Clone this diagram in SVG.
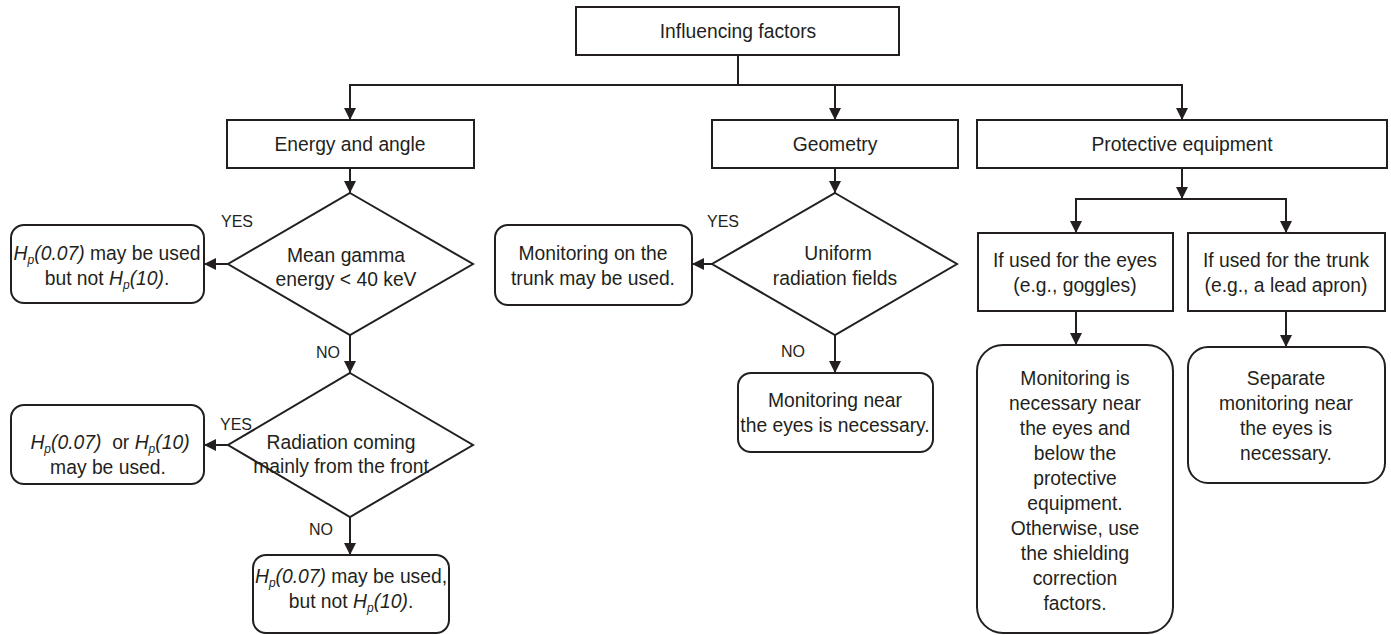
<svg xmlns="http://www.w3.org/2000/svg" width="1391" height="635" viewBox="0 0 1391 635">
<defs>
<marker id="arr" markerUnits="userSpaceOnUse" markerWidth="12" markerHeight="14" refX="12" refY="6" orient="auto">
<path d="M0,0 L12,6 L0,12 Z" fill="#231f20"/>
</marker>
<style>
.box{fill:#fff;stroke:#231f20;stroke-width:2}
.t{font-family:"Liberation Sans",Arial,sans-serif;font-size:19.3px;fill:#231f20;text-anchor:middle}
.lbl{font-family:"Liberation Sans",Arial,sans-serif;font-size:16px;fill:#231f20}
.c{fill:none;stroke:#231f20;stroke-width:2}
.i{font-style:italic}
.sub{font-style:italic;font-size:12px}
</style>
</defs>
<rect width="1391" height="635" fill="#fff"/>
<g id="connectors">
<path class="c" d="M738,55 V85"/>
<path class="c" d="M349,85 H1183"/>
<path class="c" d="M350,85 V120" marker-end="url(#arr)"/>
<path class="c" d="M835,85 V120" marker-end="url(#arr)"/>
<path class="c" d="M1182,85 V120" marker-end="url(#arr)"/>
<path class="c" d="M350,168 V193" marker-end="url(#arr)"/>
<path class="c" d="M228,264 H204" marker-end="url(#arr)"/>
<path class="c" d="M350,335 V373" marker-end="url(#arr)"/>
<path class="c" d="M228,445 H204" marker-end="url(#arr)"/>
<path class="c" d="M350,517 V555" marker-end="url(#arr)"/>
<path class="c" d="M835,168 V193" marker-end="url(#arr)"/>
<path class="c" d="M712,264 H692" marker-end="url(#arr)"/>
<path class="c" d="M835,335 V373" marker-end="url(#arr)"/>
<path class="c" d="M1182,168 V199" marker-end="url(#arr)"/>
<path class="c" d="M1075,199 H1287"/>
<path class="c" d="M1076,199 V233" marker-end="url(#arr)"/>
<path class="c" d="M1286,199 V233" marker-end="url(#arr)"/>
<path class="c" d="M1076,311 V345" marker-end="url(#arr)"/>
<path class="c" d="M1286,311 V347" marker-end="url(#arr)"/>
<text class="lbl" x="221" y="227">YES</text>
<text class="lbl" x="316" y="358">NO</text>
<text class="lbl" x="220" y="430">YES</text>
<text class="lbl" x="309" y="535">NO</text>
<text class="lbl" x="707" y="227">YES</text>
<text class="lbl" x="781" y="357">NO</text>
</g>
<g id="influencing">
<rect class="box" x="576" y="7" width="323" height="48"/>
<text class="t" x="738" y="38">Influencing factors</text>
</g>
<g id="energy">
<rect class="box" x="227" y="120" width="247" height="48"/>
<text class="t" x="350" y="151">Energy and angle</text>
</g>
<g id="geometry">
<rect class="box" x="712" y="120" width="246" height="48"/>
<text class="t" x="835" y="151">Geometry</text>
</g>
<g id="protective">
<rect class="box" x="977" y="120" width="410" height="48"/>
<text class="t" x="1182" y="151">Protective equipment</text>
</g>
<g id="d1">
<polygon class="box" points="350,193 473,264 350,335 228,264"/>
<text class="t" x="346" y="262">Mean gamma</text>
<text class="t" x="346" y="286">energy &lt; 40 keV</text>
</g>
<g id="b1">
<rect class="box" x="11" y="225" width="193" height="78" rx="13"/>
<text class="t" x="107" y="260"><tspan class="i">H</tspan><tspan class="sub" dy="4">p</tspan><tspan class="i" dy="-4">(0.07)</tspan> may be used</text>
<text class="t" x="107" y="285">but not <tspan class="i">H</tspan><tspan class="sub" dy="4">p</tspan><tspan class="i" dy="-4">(10)</tspan>.</text>
</g>
<g id="d2">
<polygon class="box" points="350,373 473,445 350,517 228,445"/>
<text class="t" x="341" y="449">Radiation coming</text>
<text class="t" x="341" y="473">mainly from the front</text>
</g>
<g id="b2">
<rect class="box" x="11" y="405" width="193" height="79" rx="13"/>
<text class="t" x="110" y="449"><tspan class="i">H</tspan><tspan class="sub" dy="4">p</tspan><tspan class="i" dy="-4">(0.07)</tspan>&#160; or <tspan class="i">H</tspan><tspan class="sub" dy="4">p</tspan><tspan class="i" dy="-4">(10)</tspan></text>
<text class="t" x="108" y="474">may be used.</text>
</g>
<g id="b3">
<rect class="box" x="253" y="555" width="196" height="78" rx="13"/>
<text class="t" x="351" y="583"><tspan class="i">H</tspan><tspan class="sub" dy="4">p</tspan><tspan class="i" dy="-4">(0.07)</tspan> may be used,</text>
<text class="t" x="351" y="608">but not <tspan class="i">H</tspan><tspan class="sub" dy="4">p</tspan><tspan class="i" dy="-4">(10)</tspan>.</text>
</g>
<g id="d3">
<polygon class="box" points="835,193 957,264 835,335 712,264"/>
<text class="t" x="838" y="260">Uniform</text>
<text class="t" x="835" y="285">radiation fields</text>
</g>
<g id="b4">
<rect class="box" x="495" y="225" width="197" height="80" rx="13"/>
<text class="t" x="593" y="260">Monitoring on the</text>
<text class="t" x="593" y="285">trunk may be used.</text>
</g>
<g id="b5">
<rect class="box" x="738" y="373" width="195" height="79" rx="13"/>
<text class="t" x="835" y="407">Monitoring near</text>
<text class="t" x="835" y="432">the eyes is necessary.</text>
</g>
<g id="eyes">
<rect class="box" x="978" y="233" width="195" height="78"/>
<text class="t" x="1075" y="267">If used for the eyes</text>
<text class="t" x="1075" y="292">(e.g., goggles)</text>
</g>
<g id="trunk">
<rect class="box" x="1188" y="233" width="197" height="78"/>
<text class="t" x="1286" y="267">If used for the trunk</text>
<text class="t" x="1286" y="292">(e.g., a lead apron)</text>
</g>
<g id="eyes-result">
<rect class="box" x="977" y="345" width="196" height="288" rx="26"/>
<text class="t" x="1075" y="385">Monitoring is</text>
<text class="t" x="1075" y="410">necessary near</text>
<text class="t" x="1075" y="435">the eyes and</text>
<text class="t" x="1075" y="460">below the</text>
<text class="t" x="1075" y="485">protective</text>
<text class="t" x="1075" y="510">equipment.</text>
<text class="t" x="1075" y="535">Otherwise, use</text>
<text class="t" x="1075" y="560">the shielding</text>
<text class="t" x="1075" y="585">correction</text>
<text class="t" x="1075" y="610">factors.</text>
</g>
<g id="trunk-result">
<rect class="box" x="1188" y="347" width="197" height="136" rx="20"/>
<text class="t" x="1286" y="385">Separate</text>
<text class="t" x="1286" y="410">monitoring near</text>
<text class="t" x="1286" y="435">the eyes is</text>
<text class="t" x="1286" y="460">necessary.</text>
</g>
</svg>
